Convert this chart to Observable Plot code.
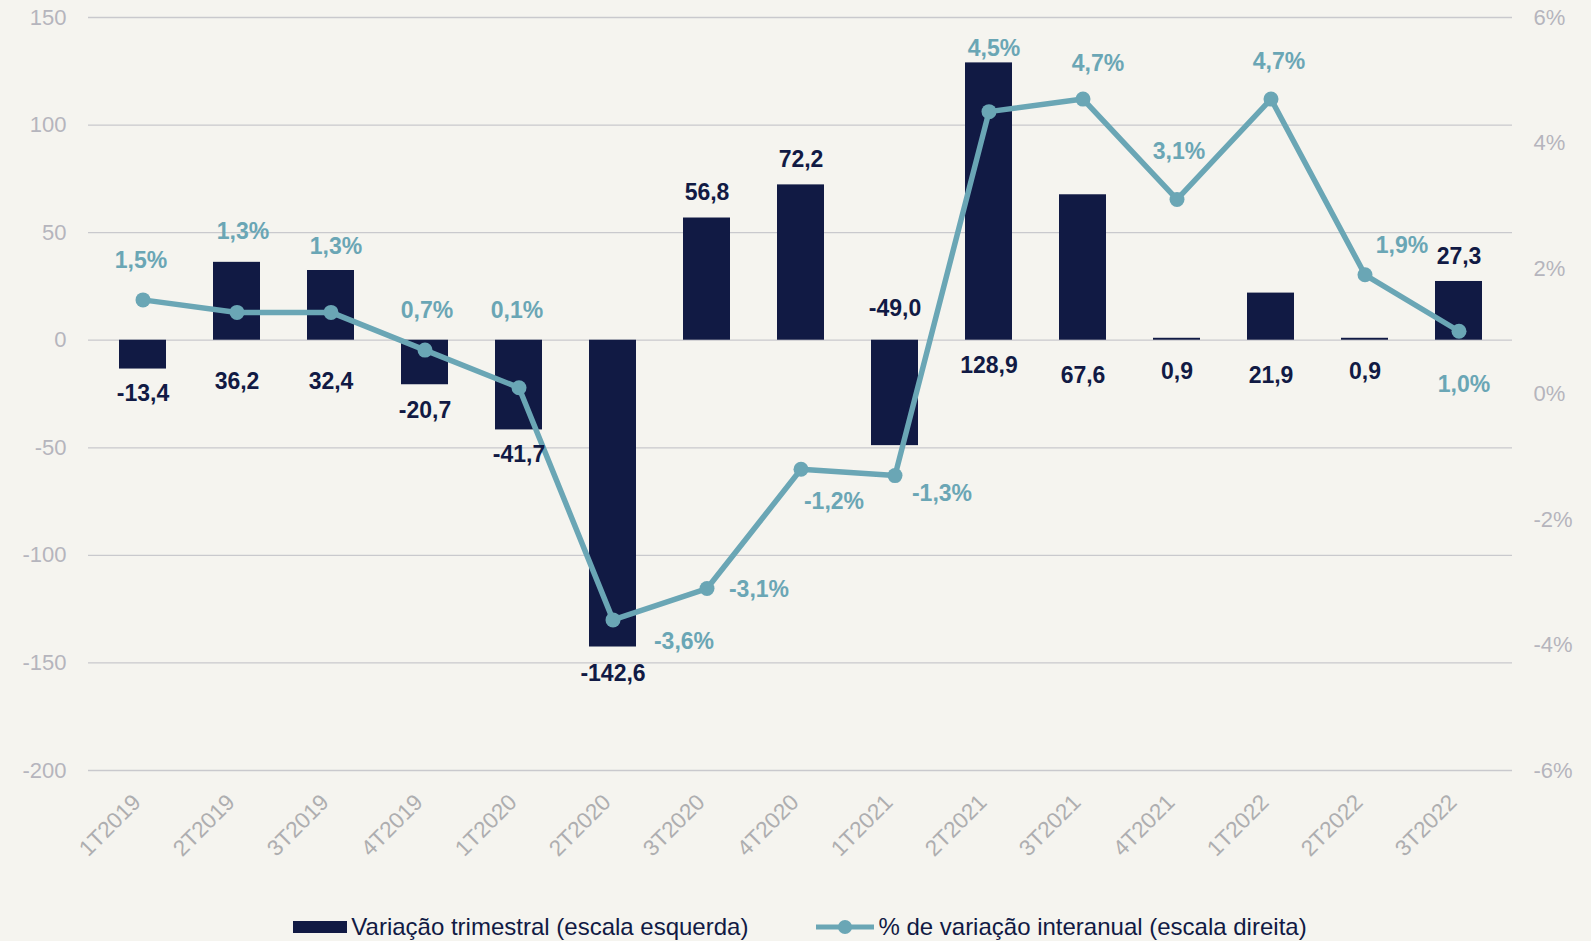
<!DOCTYPE html>
<html>
<head>
<meta charset="utf-8">
<script src="https://cdn.jsdelivr.net/npm/d3@7"></script>
<script src="https://cdn.jsdelivr.net/npm/@observablehq/plot@0.6"></script>
<style>
  html, body { margin: 0; padding: 0; background: #f5f4ef; }
  #chart { width: 1591px; }
  .legend { display: flex; justify-content: center; align-items: center; gap: 68px; height: 41px; padding-top: 12px; padding-left: 9px; box-sizing: border-box;
    font-family: "Liberation Sans", Arial, sans-serif; font-size: 24px; color: #111a44; }
  .legend .item { display: flex; align-items: center; gap: 4px; }
  .legend svg { display: block; }
</style>
</head>
<body>
<div id="chart"></div>
<script>
// ---- data ----
const quarters = ["1T2019","2T2019","3T2019","4T2019","1T2020","2T2020","3T2020","4T2020","1T2021","2T2021","3T2021","4T2021","1T2022","2T2022","3T2022"];
const variacaoTrimestral = [-13.4, 36.2, 32.4, -20.7, -41.7, -142.6, 56.8, 72.2, -49.0, 128.9, 67.6, 0.9, 21.9, 0.9, 27.3];
const variacaoInteranual = [1.5, 1.3, 1.3, 0.7, 0.1, -3.6, -3.1, -1.2, -1.3, 4.5, 4.7, 3.1, 4.7, 1.9, 1.0];
const leftTicks = [-200, -150, -100, -50, 0, 50, 100, 150];
const rightTicks = [-6, -4, -2, 0, 2, 4, 6];
const seriesNames = ["Variação trimestral (escala esquerda)", "% de variação interanual (escala direita)"];

// ---- styling / layout ----
const NAVY = "#111a44";
const TEAL = "#6aa6b5";
const GRID = "#c9c9cd";
const TICK = "#b5b5bd";

// left scale [-200,150] <-> right scale [-6,6]
const L0 = -200, L1 = 150, R0 = -6, R1 = 6;
const toLeft = p => L0 + (p - R0) * (L1 - L0) / (R1 - R0);
const fromLeft = v => R0 + (v - L0) * (R1 - R0) / (L1 - L0);

const fmt1 = v => v.toFixed(1).replace(".", ",");

const bars = quarters.map((q, i) => ({q, v: variacaoTrimestral[i]}));
const pts = quarters.map((q, i) => ({q, p: variacaoInteranual[i], yl: toLeft(variacaoInteranual[i])}));

// label placement (as in the reference): anchored at bar end or at zero, plus pixel offset
const barLabelAtZero = [false, true, true, false, false, false, false, false, true, true, true, true, true, true, false];
const barLabelDy = [25, 41, 41, 26, 25, 27, -25, -25, -32, 25, 35, 31, 35, 31, -25];
const lineLabelOffset = [[-2,-39],[6,-81],[5,-66],[2,-39],[-2,-77],[71,22],[52,1],[33,32],[47,18],[5,-63],[15,-35],[2,-48],[8,-37],[37,-29],[5,53]];

const barLabelMarks = bars.map((d, i) => Plot.text([d], {
  x: "q", y: d => barLabelAtZero[i] ? 0 : d.v, text: d => fmt1(d.v),
  dy: barLabelDy[i], fill: NAVY, fontWeight: "bold", fontSize: 23
}));
const lineLabelMarks = pts.map((d, i) => Plot.text([d], {
  x: "q", y: "yl", text: d => fmt1(d.p) + "%",
  dx: lineLabelOffset[i][0], dy: lineLabelOffset[i][1], fill: TEAL, fontWeight: "bold", fontSize: 23
}));

const plot = Plot.plot({
  width: 1591,
  height: 900,
  marginLeft: 88,
  marginRight: 79,
  marginTop: 17,
  marginBottom: 130,
  style: {background: "#f5f4ef", fontFamily: "'Liberation Sans', Arial, sans-serif", fontSize: "22px", overflow: "visible"},
  x: {domain: quarters, paddingInner: 0.5, paddingOuter: 0.25, label: null},
  y: {domain: [L0, L1], label: null},
  marks: [
    Plot.ruleY(leftTicks, {stroke: GRID, strokeWidth: 1.3}),
    Plot.barY(bars, {x: "q", y: "v", fill: NAVY}),
    Plot.line(pts, {x: "q", y: "yl", stroke: TEAL, strokeWidth: 5.5}),
    Plot.dot(pts, {x: "q", y: "yl", r: 7.5, fill: TEAL}),
    ...barLabelMarks,
    ...lineLabelMarks,
    Plot.axisY({ticks: leftTicks, tickSize: 0, tickPadding: 22, tickFormat: d => String(d), color: TICK, fontSize: 22, label: null}),
    Plot.axisY({anchor: "right", ticks: rightTicks.map(toLeft), tickSize: 0, tickPadding: 21,
      tickFormat: v => Math.round(fromLeft(v)) + "%", color: TICK, fontSize: 22, label: null}),
    Plot.axisX({tickRotate: -45, tickSize: 0, tickPadding: 28, dx: -6, color: "#aeaeb0", fontSize: 22.5, label: null})
  ]
});
document.getElementById("chart").appendChild(plot);

// legend (below the chart)
const legend = document.createElement("div");
legend.className = "legend";
legend.innerHTML = `
  <div class="item"><svg width="54" height="14"><rect x="0" y="1" width="54" height="12" fill="${NAVY}"/></svg><span>${seriesNames[0]}</span></div>
  <div class="item"><svg width="58" height="16"><line x1="0" x2="58" y1="8" y2="8" stroke="${TEAL}" stroke-width="5"/><circle cx="29" cy="8" r="7" fill="${TEAL}"/></svg><span>${seriesNames[1]}</span></div>`;
document.getElementById("chart").appendChild(legend);
</script>
</body>
</html>
